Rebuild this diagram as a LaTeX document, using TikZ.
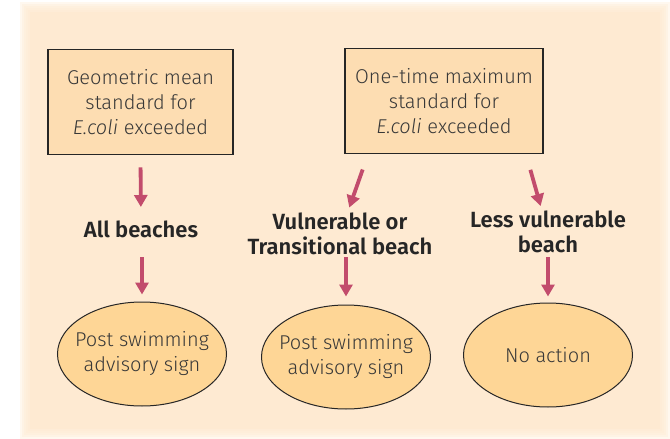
\documentclass[tikz,border=0pt]{standalone}
\usepackage{fontspec}
\setmainfont{Fira Sans}[UprightFont=* Light, ItalicFont=* Light Italic, BoldFont=* SemiBold]
\usetikzlibrary{arrows.meta,shapes.geometric}
\definecolor{panelpeach}{RGB}{254,234,210}
\definecolor{boxpeach}{RGB}{253,221,178}
\definecolor{ovalorange}{RGB}{254,214,150}
\definecolor{arrowrose}{RGB}{194,76,108}
\definecolor{inkgray}{RGB}{56,56,56}
\tikzset{
  standard/.style={
    rectangle,
    draw=black!85,
    line width=1.8pt,
    fill=boxpeach,
    minimum height=105pt,
    align=center,
    text=inkgray,
    font=\fontsize{20}{25}\selectfont
  },
  outcome/.style={
    ellipse,
    draw=black!85,
    line width=1pt,
    fill=ovalorange,
    minimum width=169pt,
    minimum height=104pt,
    inner xsep=-11pt,
    inner ysep=0pt,
    align=center,
    text=inkgray,
    font=\fontsize{20}{25}\selectfont
  },
  beachtype/.style={align=center, text=black!85, font=\bfseries\fontsize{22}{24.5}\selectfont},
  flow/.style={draw=arrowrose, line width=3.8pt, -{Triangle[width=13pt,length=12pt]}}
}

\begin{document}
\begin{tikzpicture}[x=1pt,y=1pt]
  \useasboundingbox (0,0) rectangle (670,-439);
  % Panel
  \foreach \k in {0,...,4}
    \fill[panelpeach, opacity=0.35] (20+2*\k,-2-2*\k) rectangle (670-2*\k,-439+2*\k);
  \fill[panelpeach] (30,-12) rectangle (660,-429);
  % Standards
  \node[standard, minimum width=185pt] (geo) at (140.5,-102) {Geometric mean\\standard for\\\textit{E.coli} exceeded};
  \node[standard, minimum width=198pt] (onetime) at (444,-101) {One-time maximum\\standard for\\\textit{E.coli} exceeded};
  % Beach types
  \node[beachtype] (allb) at (141,-229) {All beaches};
  \node[beachtype] (vul) at (340,-234) {Vulnerable or\\Transitional beach};
  \node[beachtype] (less) at (548,-232) {Less vulnerable\\beach};
  % Actions
  \node[outcome] (post1) at (142,-354) {Post swimming\\advisory sign};
  \node[outcome] (post2) at (346,-357) {Post swimming\\advisory sign};
  \node[outcome] (noact) at (548,-355) {No action};
  % Arrows
  \draw[flow, shorten <=12pt, shorten >=22pt] (geo.south) -- (allb.center);
  \draw[flow, shorten <=16pt, shorten >=28pt] ([xshift=-76pt]onetime.south) -- (vul.center);
  \draw[flow, shorten <=16pt, shorten >=27pt] ([xshift=82pt]onetime.south) -- (less.center);
  \draw[flow, shorten <=28pt, shorten >=7pt] (allb.center -| post1.north) -- (post1.north);
  \draw[flow, shorten <=23pt, shorten >=8pt] (vul.center -| post2.north) -- (post2.north);
  \draw[flow, shorten <=25pt, shorten >=6pt] (less.center -| noact.north) -- (noact.north);
\end{tikzpicture}
\end{document}
